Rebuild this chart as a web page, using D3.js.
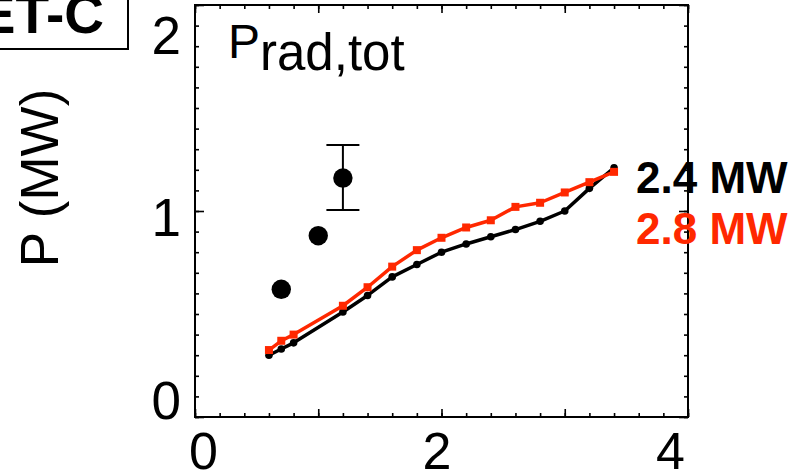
<!DOCTYPE html>
<html>
<head>
<meta charset="utf-8">
<script src="https://cdn.jsdelivr.net/npm/d3@7"></script>
<style>
  html, body { margin: 0; padding: 0; background: #fff; }
  svg { display: block; font-family: "Liberation Sans", Arial, Helvetica, sans-serif; }
</style>
</head>
<body>
<svg id="chart" width="792" height="475"></svg>
<script>
// ---- data ----
const xVals   = [0.6, 0.7, 0.8, 1.2, 1.4, 1.6, 1.8, 2.0, 2.2, 2.4, 2.6, 2.8, 3.0, 3.2, 3.4];
const sim24MW = [0.30, 0.33, 0.36, 0.51, 0.59, 0.68, 0.74, 0.80, 0.84, 0.875, 0.91, 0.95, 1.00, 1.11, 1.21];
const sim28MW = [0.325, 0.37, 0.40, 0.54, 0.63, 0.73, 0.81, 0.87, 0.92, 0.955, 1.02, 1.04, 1.09, 1.14, 1.19];
const expX    = [0.7, 1.0, 1.2];
const expY    = [0.62, 0.88, 1.16];
const expErrLo = [null, null, 1.005];
const expErrHi = [null, null, 1.32];
const xTickLabels = [0, 2, 4];
const yTickLabels = [0, 1, 2];
const seriesNames = ["2.4 MW", "2.8 MW"];
const seriesColors = ["#000000", "#ff2800"];
const panelTitle = "ET-C";

// ---- layout ----
const svg = d3.select("#chart");
const L = 195, R = 688, T = 5, B = 417;
const x = d3.scaleLinear().domain([0, 4]).range([L, R]);
const y = d3.scaleLinear().domain([0, 2]).range([B, T]);
// tick labels in the reference sit slightly inside the tick positions
const xLab = d3.scaleLinear().domain([0, 4]).range([203, 670]);
const yLab = d3.scaleLinear().domain([0, 2]).range([399, 34]);

const xMinor = d3.range(0, 4.0001, 0.2).map(v => +v.toFixed(2));
const yMinor = d3.range(0, 2.0001, 0.1).map(v => +v.toFixed(2));
const xMajor = [0, 1, 2, 3, 4];
const yMajor = [0, 1, 2];

function styleAxis(g) {
  g.select(".domain").remove();
  g.selectAll("line").attr("stroke", "#000").attr("stroke-width", 1.6);
  g.selectAll("text").remove();
}
// ticks (inward) on all four sides
svg.append("g").attr("transform", `translate(0,${B})`).call(d3.axisBottom(x).tickValues(xMinor).tickSize(-4).tickSizeOuter(0)).call(styleAxis);
svg.append("g").attr("transform", `translate(0,${B})`).call(d3.axisBottom(x).tickValues(xMajor).tickSize(-8).tickSizeOuter(0)).call(styleAxis);
svg.append("g").attr("transform", `translate(0,${T})`).call(d3.axisTop(x).tickValues(xMinor).tickSize(-4).tickSizeOuter(0)).call(styleAxis);
svg.append("g").attr("transform", `translate(0,${T})`).call(d3.axisTop(x).tickValues(xMajor).tickSize(-8).tickSizeOuter(0)).call(styleAxis);
svg.append("g").attr("transform", `translate(${L},0)`).call(d3.axisLeft(y).tickValues(yMinor).tickSize(-4).tickSizeOuter(0)).call(styleAxis);
svg.append("g").attr("transform", `translate(${L},0)`).call(d3.axisLeft(y).tickValues(yMajor).tickSize(-9).tickSizeOuter(0)).call(styleAxis);
svg.append("g").attr("transform", `translate(${R},0)`).call(d3.axisRight(y).tickValues(yMinor).tickSize(-4).tickSizeOuter(0)).call(styleAxis);
svg.append("g").attr("transform", `translate(${R},0)`).call(d3.axisRight(y).tickValues(yMajor).tickSize(-9).tickSizeOuter(0)).call(styleAxis);

// frame
svg.append("rect").attr("x", L).attr("y", T).attr("width", R - L).attr("height", B - T)
  .attr("fill", "none").attr("stroke", "#000").attr("stroke-width", 2);

// tick labels
const gxl = svg.append("g").attr("transform", "translate(0,469)")
  .call(d3.axisBottom(xLab).tickValues(xTickLabels).tickFormat(d3.format("d")).tickSize(0));
gxl.select(".domain").remove();
gxl.selectAll("text").attr("y", 0).attr("dy", 0).attr("font-size", 52).attr("fill", "#000")
  .attr("font-family", "Liberation Sans, Arial, sans-serif");

const gyl = svg.append("g").attr("transform", "translate(181,0)")
  .call(d3.axisLeft(yLab).tickValues(yTickLabels).tickFormat(d3.format("d")).tickSize(0));
gyl.select(".domain").remove();
gyl.selectAll("text").attr("x", 0).attr("dy", "0.36em").attr("font-size", 53).attr("fill", "#000")
  .attr("font-family", "Liberation Sans, Arial, sans-serif");

// y-axis title
svg.append("text").attr("transform", "translate(58,178) rotate(-90)")
  .attr("text-anchor", "middle").attr("font-size", 53).attr("fill", "#000").text("P (MW)");

// panel label
const pt = svg.append("text").attr("x", 228).attr("y", 58).attr("fill", "#000");
pt.append("tspan").attr("font-size", 48).text("P");
pt.append("tspan").attr("font-size", 51).attr("dy", 12).text("rad,tot");

// box label top-left
svg.append("rect").attr("x", -10).attr("y", -10).attr("width", 138).attr("height", 59)
  .attr("fill", "#fff").attr("stroke", "#000").attr("stroke-width", 2);
svg.append("text").attr("x", 104).attr("y", 33).attr("text-anchor", "end")
  .attr("font-size", 55).attr("font-weight", "bold").attr("fill", "#000").text(panelTitle);

// simulation lines
const line = d3.line().x((d, i) => x(xVals[i])).y(d => y(d));
svg.append("path").datum(sim24MW).attr("d", line).attr("fill", "none")
  .attr("stroke", seriesColors[0]).attr("stroke-width", 3.5).attr("stroke-linejoin", "round");
svg.append("g").selectAll("circle").data(sim24MW).join("circle")
  .attr("cx", (d, i) => x(xVals[i])).attr("cy", d => y(d)).attr("r", 3.8).attr("fill", seriesColors[0]);

svg.append("path").datum(sim28MW).attr("d", line).attr("fill", "none")
  .attr("stroke", seriesColors[1]).attr("stroke-width", 3.5).attr("stroke-linejoin", "round");
svg.append("g").selectAll("rect").data(sim28MW).join("rect")
  .attr("x", (d, i) => x(xVals[i]) - 4).attr("y", d => y(d) - 4)
  .attr("width", 8).attr("height", 8).attr("fill", seriesColors[1]);

// experimental points with error bar
const eg = svg.append("g");
expX.forEach((xv, i) => {
  if (expErrLo[i] != null) {
    eg.append("line").attr("x1", x(xv)).attr("x2", x(xv)).attr("y1", y(expErrLo[i])).attr("y2", y(expErrHi[i]))
      .attr("stroke", "#000").attr("stroke-width", 2);
    [expErrLo[i], expErrHi[i]].forEach(v => {
      eg.append("line").attr("x1", x(xv) - 16.5).attr("x2", x(xv) + 16.5).attr("y1", y(v)).attr("y2", y(v))
        .attr("stroke", "#000").attr("stroke-width", 2);
    });
  }
});
eg.selectAll("circle").data(expY).join("circle")
  .attr("cx", (d, i) => x(expX[i])).attr("cy", d => y(d)).attr("r", 9.7).attr("fill", "#000");

// legend labels
seriesNames.forEach((name, i) => {
  svg.append("text").attr("x", 636).attr("y", 193 + i * 51)
    .attr("font-size", 44).attr("font-weight", "bold").attr("fill", seriesColors[i]).text(name);
});
</script>
</body>
</html>
